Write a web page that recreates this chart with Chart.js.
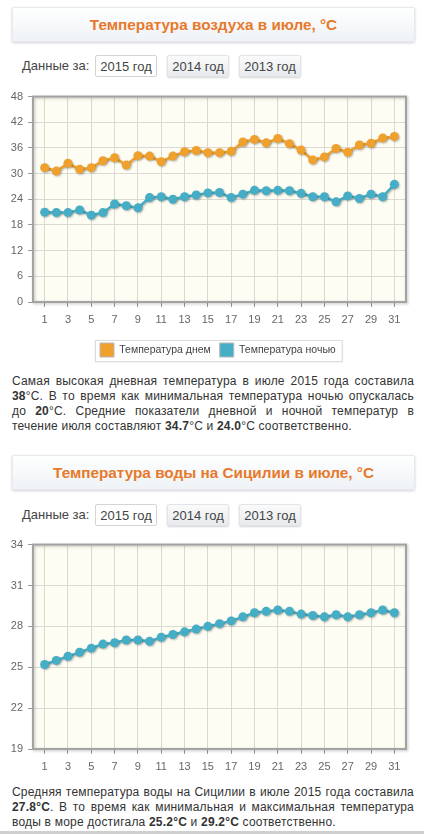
<!DOCTYPE html>
<html lang="ru">
<head>
<meta charset="utf-8">
<title>Температура в июле</title>
<script src="https://cdn.jsdelivr.net/npm/chart.js@4/dist/chart.umd.min.js"></script>
<style>
  body { margin: 0; background: #fff; font-family: "Liberation Sans", Arial, sans-serif; color: #333; }
  .page { position: relative; width: 424px; height: 834px; overflow: hidden; }
  .title {
    position: absolute; left: 12px; width: 403px; height: 35px; box-sizing: border-box;
    border: 1px solid #e6e9ee; border-radius: 2px;
    background: linear-gradient(#ffffff, #eef2f6);
    box-shadow: 0 1px 3px rgba(0,0,0,0.18);
    color: #e7792b; font-weight: bold; font-size: 15.3px; line-height: 33px; text-align: center;
  }
  .years { position: absolute; left: 0; width: 424px; height: 22px; font-size: 13px; color: #444; }
  .years span { position: absolute; left: 22px; line-height: 22px; }
  .years .btn {
    position: absolute; top: 0; width: 62px; height: 22px; box-sizing: border-box;
    line-height: 21px; text-align: center; border-radius: 2px;
    background: linear-gradient(#fbfbfb, #e7eaee); border: 1px solid #e2e4e8;
    box-shadow: 0 1px 2px rgba(0,0,0,0.18);
  }
  .years .btn.on { background: #fff; border: 1px solid #d4d4d4; box-shadow: none; }
  .box { position: absolute; left: 0; width: 424px; }
  .txt { position: absolute; left: 12px; width: 402px; font-size: 12px; letter-spacing: 0.2px; line-height: 15px; text-align: justify; color: #333; margin: 0; }
  .strip { position: absolute; left: 0; top: 831px; width: 424px; height: 3px; background: #cfcfcf; }
</style>
</head>
<body>
<div class="page">
  <div class="title" style="top:7px">Температура воздуха в июле, °C</div>
  <div class="years" style="top:55px">
    <span>Данные за:</span>
    <div class="btn on" style="left:95px">2015 год</div>
    <div class="btn" style="left:167px">2014 год</div>
    <div class="btn" style="left:239px">2013 год</div>
  </div>
  <div class="box" style="top:85px;height:283px"><canvas id="airChart"></canvas></div>
  <p class="txt" style="top:374px">Самая высокая дневная температура в июле 2015 года составила <b>38</b>°C. В то время как минимальная температура ночью опускалась до <b>20</b>°C. Средние показатели дневной и ночной температур в течение июля составляют <b>34.7</b>°C и <b>24.0</b>°C соответственно.</p>

  <div class="title" style="top:455px">Температура воды на Сицилии в июле, °C</div>
  <div class="years" style="top:504px">
    <span>Данные за:</span>
    <div class="btn on" style="left:95px">2015 год</div>
    <div class="btn" style="left:167px">2014 год</div>
    <div class="btn" style="left:239px">2013 год</div>
  </div>
  <div class="box" style="top:533px;height:244px"><canvas id="waterChart"></canvas></div>
  <p class="txt" style="top:785px">Средняя температура воды на Сицилии в июле 2015 года составила <b>27.8°C</b>. В то время как минимальная и максимальная температура воды в море достигала <b>25.2°C</b> и <b>29.2°C</b> соответственно.</p>
  <div class="strip"></div>
</div>

<script>
// данные за июль 2015
const days = [1, 2, 3, 4, 5, 6, 7, 8, 9, 10, 11, 12, 13, 14, 15, 16, 17, 18, 19, 20, 21, 22, 23, 24, 25, 26, 27, 28, 29, 30, 31];
const dayTicks = [1, 3, 5, 7, 9, 11, 13, 15, 17, 19, 21, 23, 25, 27, 29, 31];

const dayTemp = [31.4, 30.6, 32.4, 31.0, 31.4, 33.0, 33.7, 32.0, 34.2, 34.1, 32.8, 34.1, 35.1, 35.4, 34.9, 34.9,
                 35.2, 37.4, 38.0, 37.2, 38.2, 37.0, 35.5, 33.2, 33.9, 35.9, 35.0, 36.7, 37.1, 38.3, 38.7];
const nightTemp = [21.0, 20.9, 20.9, 21.5, 20.3, 20.9, 22.9, 22.5, 22.0, 24.4, 24.6, 24.0, 24.6, 25.0, 25.5, 25.6,
                   24.4, 25.2, 26.1, 26.0, 26.1, 26.0, 25.4, 24.6, 24.6, 23.4, 24.8, 24.2, 25.2, 24.6, 27.5];
const waterTemp = [25.2, 25.5, 25.8, 26.1, 26.4, 26.7, 26.8, 27.0, 27.0, 26.9, 27.2, 27.4, 27.6, 27.8, 28.0, 28.2,
                   28.4, 28.7, 29.0, 29.1, 29.2, 29.1, 28.9, 28.8, 28.7, 28.85, 28.7, 28.85, 29.0, 29.2, 29.0];

const airLabels = ['Температура днем', 'Температура ночью'];
const airTicks = [0, 48, 6];    // min, max, шаг
const waterTicks = [19, 34, 3];

const ORANGE = '#f0a02c';
const BLUE = '#45aec6';

Chart.defaults.font.family = '"Liberation Sans", Arial, sans-serif';
Chart.defaults.font.size = 11;
Chart.defaults.color = '#666';

function points(values) {
  return days.map((d, i) => ({ x: d, y: values[i] }));
}

// фон и рамка области графика
const plotFrame = {
  id: 'plotFrame',
  beforeDraw(chart) {
    const { ctx, chartArea: a } = chart;
    ctx.save();
    ctx.fillStyle = '#fdfdf3';
    ctx.fillRect(a.left, a.top, a.width, a.height);

    // рамка легенды
    const lg = chart.legend;
    if (lg && lg.options.display && lg.legendHitBoxes.length) {
      const boxes = lg.legendHitBoxes;
      const x1 = boxes[0].left - 5;
      const x2 = boxes[boxes.length - 1].left + boxes[boxes.length - 1].width + 6;
      const y1 = boxes[0].top - 3;
      ctx.shadowColor = 'rgba(0,0,0,0.12)';
      ctx.shadowBlur = 2;
      ctx.shadowOffsetY = 1;
      ctx.fillStyle = '#fff';
      ctx.fillRect(x1, y1, x2 - x1, 21);
      ctx.shadowColor = 'transparent';
      ctx.strokeStyle = '#dcdcdc';
      ctx.lineWidth = 1;
      ctx.strokeRect(x1 + 0.5, y1 + 0.5, x2 - x1, 21);
    }
    ctx.restore();
  },
  beforeDatasetsDraw(chart) {
    const { ctx, chartArea: a } = chart;
    ctx.save();
    ctx.shadowColor = 'rgba(0,0,0,0.25)';
    ctx.shadowBlur = 3;
    ctx.shadowOffsetX = 1;
    ctx.shadowOffsetY = 1;
    ctx.strokeStyle = '#a3a3a3';
    ctx.lineWidth = 2;
    ctx.strokeRect(a.left, a.top, a.width, a.height);
    ctx.restore();
  },
  // тень у линий и точек
  beforeDatasetDraw(chart) {
    const ctx = chart.ctx;
    ctx.save();
    ctx.shadowColor = 'rgba(0,0,0,0.28)';
    ctx.shadowBlur = 2;
    ctx.shadowOffsetX = 1;
    ctx.shadowOffsetY = 1;
  },
  afterDatasetDraw(chart) {
    chart.ctx.restore();
  }
};

// легенда фиксированной высоты; первый квадрат с x=100, чуть ниже оси
const legendShift = {
  id: 'legendShift',
  beforeLayout(chart) {
    const lg = chart.legend;
    if (!lg || lg._fixed) return;
    const fit = lg.fit;
    lg.fit = function () {
      fit.call(this);
      if (this.options.display) this.height = 38;
    };
    lg._fixed = true;
  },
  afterLayout(chart) {
    const lg = chart.legend;
    if (!lg || !lg.options.display) return;
    const pad = lg.options.labels.padding;
    const start = (lg.left + pad + lg.right - lg.lineWidths[0]) / 2;
    const dx = 100 - start;
    lg.left += dx;
    lg.right += dx;
    lg.top += 4;
    lg.bottom += 4;
  }
};

function scales(yt) {
  return {
    x: {
      type: 'linear',
      min: 0,
      max: 32,
      afterBuildTicks: axis => { axis.ticks = dayTicks.map(v => ({ value: v })); },
      afterFit: axis => { axis.height = 28; },
      grid: { color: '#dadad3', tickColor: '#9a9a9a', tickLength: 5 },
      border: { display: false },
      ticks: { padding: 6, autoSkip: false, maxRotation: 0 }
    },
    y: {
      min: yt[0],
      max: yt[1],
      afterFit: axis => { axis.width = 33; },
      grid: { color: '#dadad3', tickColor: '#9a9a9a', tickLength: 5 },
      border: { display: false },
      ticks: { stepSize: yt[2], padding: 5 }
    }
  };
}

function lineSet(label, values, color) {
  return {
    label: label,
    data: points(values),
    borderColor: color,
    backgroundColor: color,
    borderWidth: 2.5,
    pointRadius: 4.5,
    pointBorderWidth: 0,
    pointBackgroundColor: color,
    tension: 0
  };
}

new Chart(document.getElementById('airChart'), {
  type: 'line',
  data: {
    datasets: [
      lineSet(airLabels[0], dayTemp, ORANGE),
      lineSet(airLabels[1], nightTemp, BLUE)
    ]
  },
  options: {
    responsive: true,
    maintainAspectRatio: false,
    animation: false,
    layout: { padding: { top: 10, right: 18, left: 0, bottom: 0 } },
    scales: scales(airTicks),
    plugins: {
      tooltip: { enabled: false },
      legend: {
        position: 'bottom',
        labels: {
          boxWidth: 14,
          boxHeight: 14,
          padding: 9,
          color: '#444',
          font: { size: 10.5 },
          generateLabels(chart) {
            return Chart.defaults.plugins.legend.labels.generateLabels(chart).map(l => {
              l.strokeStyle = '#b8b8b8';
              l.lineWidth = 1;
              return l;
            });
          }
        }
      }
    }
  },
  plugins: [plotFrame, legendShift]
});

new Chart(document.getElementById('waterChart'), {
  type: 'line',
  data: {
    datasets: [lineSet('Температура воды', waterTemp, BLUE)]
  },
  options: {
    responsive: true,
    maintainAspectRatio: false,
    animation: false,
    layout: { padding: { top: 10, right: 18, left: 0, bottom: 0 } },
    scales: scales(waterTicks),
    plugins: {
      tooltip: { enabled: false },
      legend: { display: false }
    }
  },
  plugins: [plotFrame]
});
</script>
</body>
</html>
